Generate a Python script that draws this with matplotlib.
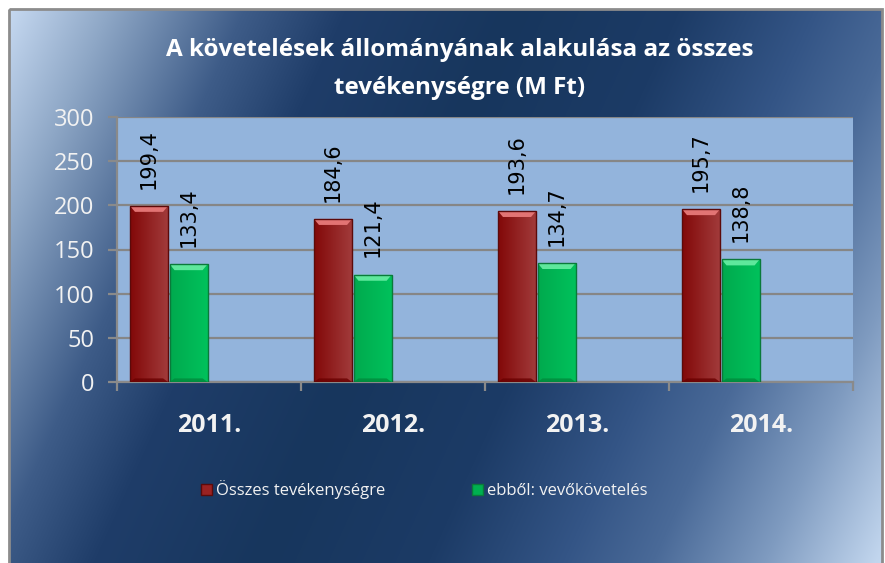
import numpy as np
import matplotlib
matplotlib.use("Agg")
import matplotlib.pyplot as plt
from matplotlib.patches import Rectangle, Polygon, Patch
from matplotlib.colors import to_rgb

# ---- data ----
categories = ["2011.", "2012.", "2013.", "2014."]
total_values = [199.4, 184.6, 193.6, 195.7]
receivable_values = [133.4, 121.4, 134.7, 138.8]
series_names = ["Összes tevékenységre", "ebből: vevőkövetelés"]
title_lines = ["A követelések állományának alakulása az összes", "tevékenységre (M Ft)"]
y_ticks = [0, 50, 100, 150, 200, 250, 300]

W, H = 885, 563
fig = plt.figure(figsize=(W / 100, H / 100), dpi=100)
fig.patch.set_facecolor("white")

# ---- background gradient ----
bg = fig.add_axes([0, 0, 1, 1], zorder=0)
bg.set_xlim(0, W)
bg.set_ylim(H, 0)
bg.axis("off")
xs = np.arange(W)
ys = np.arange(H)
XX, YY = np.meshgrid(xs, ys)
s = (440 * XX + 200 * YY) / 499200.0
stops = [0.0, 0.09, 0.21, 0.30, 0.45, 0.60, 0.72, 0.80, 0.90, 1.0]
cols = ["#c6d9f1", "#8ea7c6", "#3e5c88", "#1f3d69", "#17365d", "#1c3b66",
        "#345586", "#4a6a98", "#7f9bc0", "#c2d6ee"]
rgbs = np.array([to_rgb(c) for c in cols])
img = np.dstack([np.interp(s, stops, rgbs[:, k]) for k in range(3)])
bg.imshow(img, extent=[9, 882, H, 9], aspect="auto", interpolation="bilinear")
bg.add_patch(Rectangle((9, 9), 873, H, fill=False, edgecolor="#8c8c8c", lw=2))

# ---- main axes ----
ax = fig.add_axes([117 / W, (H - 382) / H, 736 / W, 265 / H], zorder=2)
ax.set_facecolor("#93b4dc")
ax.set_xlim(0, len(categories))
ax.set_ylim(0, 300)
for sp in ["top", "right"]:
    ax.spines[sp].set_visible(False)
for sp in ["left", "bottom"]:
    ax.spines[sp].set_color("#8a8a8a")
    ax.spines[sp].set_linewidth(1.6)
ax.set_yticks(y_ticks)
ax.yaxis.grid(True, color="#868686", lw=1.6)
ax.set_axisbelow(True)
ax.tick_params(axis="y", length=6.5, width=1.6, color="#8a8a8a", pad=10,
               labelsize=17, labelcolor="#f2f2f2")
for t in ax.get_yticklabels():
    t.set_fontfamily("Open Sans")
ax.set_xticks(np.arange(len(categories) + 1))
ax.set_xticklabels([])
ax.tick_params(axis="x", which="major", length=6.5, width=1.6, color="#8a8a8a")
ax.set_xticks(np.arange(len(categories)) + 0.5, minor=True)
ax.set_xticklabels(categories, minor=True, fontfamily="Open Sans",
                   fontweight="bold", fontsize=18, color="#f2f2f2")
ax.tick_params(axis="x", which="minor", length=0, pad=22.5)

px_x = len(categories) / 736.0
px_y = 300 / 265.0


def bevel_bar(x0, w, h, left_c, right_c, top_c, bot_c, edge_c):
    rect = Rectangle((x0, 0), w, h, facecolor="none", edgecolor="none")
    ax.add_patch(rect)
    grad = np.linspace(0, 1, 64)[None, :, None]
    lc, rc = np.array(to_rgb(left_c)), np.array(to_rgb(right_c))
    g = lc[None, None, :] * (1 - grad) + rc[None, None, :] * grad
    im = ax.imshow(g, extent=[x0, x0 + w, 0, h], aspect="auto",
                   interpolation="bilinear", zorder=3)
    im.set_clip_path(rect)
    bx, by = 5 * px_x, 6 * px_y
    top = Polygon([(x0, h), (x0 + w, h), (x0 + w - bx, h - by), (x0 + bx, h - by)],
                  closed=True, facecolor=top_c, edgecolor="none", zorder=4)
    ax.add_patch(top)
    bot = Polygon([(x0, 0), (x0 + w, 0), (x0 + w - bx, by * 0.6), (x0 + bx, by * 0.6)],
                  closed=True, facecolor=bot_c, edgecolor="none", zorder=4, alpha=0.8)
    ax.add_patch(bot)
    ax.add_patch(Rectangle((x0, 0), w, h, facecolor="none", edgecolor=edge_c,
                           lw=1.0, zorder=5))


bar_w = 0.207
offs = [0.174, 0.389]
styles = [
    dict(left_c="#820808", right_c="#a23c3c", top_c="#e27474", bot_c="#6a0000", edge_c="#5c0a0a"),
    dict(left_c="#00aa4e", right_c="#00c25c", top_c="#5ee89c", bot_c="#008a3c", edge_c="#0a7a3a"),
]
for vals, off, st in zip([total_values, receivable_values], offs, styles):
    for i, v in enumerate(vals):
        xc = i + off
        bevel_bar(xc - bar_w / 2, bar_w, v, **st)
        ax.annotate(f"{v:.1f}".replace(".", ","), xy=(xc, v), xytext=(0, 12.5),
                    textcoords="offset points", rotation=90, ha="center",
                    va="bottom", fontsize=15, color="black",
                    fontfamily="DejaVu Sans", zorder=6, annotation_clip=False)

# ---- title ----
fig.text(460 / W, 1 - 56.5 / H, title_lines[0], ha="center", va="baseline",
         fontfamily="Open Sans", fontweight="bold", fontsize=17.5, color="white")
fig.text(460 / W, 1 - 93.5 / H, title_lines[1], ha="center", va="baseline",
         fontfamily="Open Sans", fontweight="bold", fontsize=17.5, color="white")

# ---- legend ----
handles = [Patch(facecolor="#9a2222", edgecolor="#5c0a0a", label=series_names[0]),
           Patch(facecolor="#00b050", edgecolor="#0a7a3a", label=series_names[1])]
leg = fig.legend(handles=handles, loc="center", bbox_to_anchor=(424 / W, 1 - 490 / H),
                 ncol=2, frameon=False, handlelength=0.65, handleheight=0.7,
                 handletextpad=0.25, columnspacing=5.2,
                 prop={"family": "Open Sans", "size": 12})
for t in leg.get_texts():
    t.set_color("#f2f2f2")

fig.savefig("out.png", dpi=100)
